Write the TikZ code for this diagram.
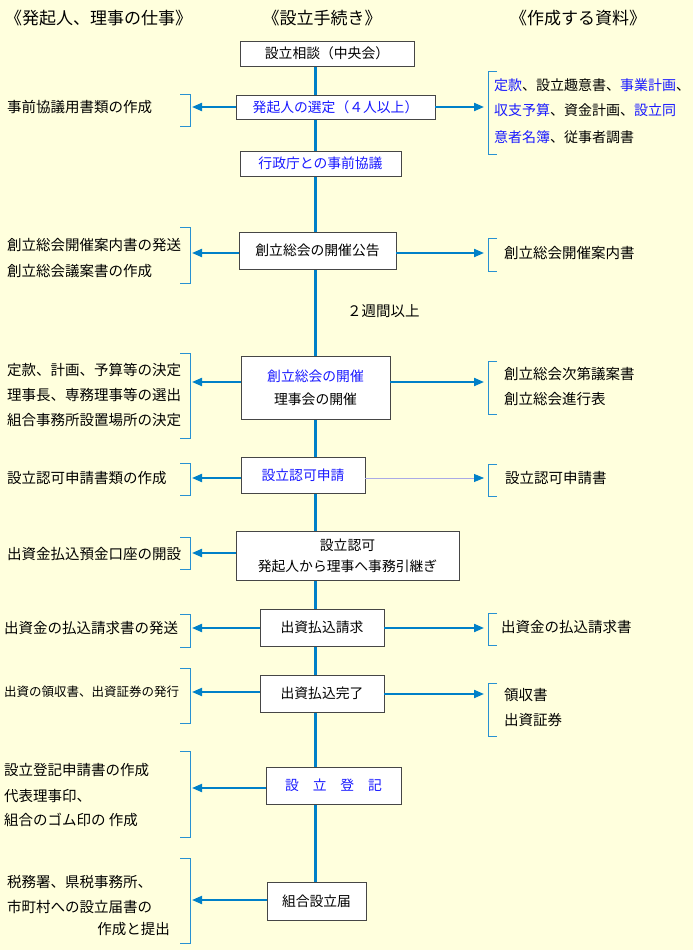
\documentclass[tikz,border=0pt]{standalone}
\usepackage{fontspec}
\setmainfont{Noto Sans CJK JP}
\usetikzlibrary{arrows.meta}
\definecolor{paper}{RGB}{255,255,221}
\definecolor{flowblue}{RGB}{0,128,200}
\definecolor{brkblue}{RGB}{40,145,210}
\definecolor{txtblue}{RGB}{25,25,255}
\definecolor{thinline}{RGB}{170,170,230}

\begin{document}
\begin{tikzpicture}[
  x=1pt, y=-1pt,
  every node/.style={inner sep=0pt, font=\fontsize{14.5}{16}\selectfont},
  proc/.style={draw=gray!55!black, fill=white, line width=0.9pt, font=\fontsize{13.8}{15}\selectfont, align=center},
  note/.style={anchor=west},
  head/.style={font=\fontsize{17}{18}\selectfont},
  hot/.style={text=txtblue},
  flow/.style={draw=flowblue, line width=3pt},
  feed/.style={draw=flowblue, line width=2pt, -{Triangle[length=10pt,width=8pt]}},
  faint/.style={draw=thinline, line width=0.8pt, -{Triangle[length=10pt,width=8pt,color=flowblue]}},
  brk/.style={draw=brkblue, line width=1pt}]

  % page
  \fill[paper] (0,0) rectangle (693,950);
  \useasboundingbox (0,0) rectangle (693,950);

  %% ---------------- headings ----------------
  \node[head, anchor=west] (hL) at (5,18) {《発起人、理事の仕事》};
  \node[head] (hM) at (322,18) {《設立手続き》};
  \node[head] (hR) at (578,18) {《作成する資料》};

  %% ---------------- main flow ----------------
  % spine
  \coordinate (top) at (315,66);
  \coordinate (bot) at (315,882);
  \draw[flow] (top) -- (bot);
  % steps
  \node[proc, minimum width=174pt, minimum height=25pt] (s1) at (327,53.5) {設立相談（中央会）};
  \node[proc, hot, minimum width=199pt, minimum height=24pt] (s2) at (335.5,107) {発起人の選定（４人以上）};
  \node[proc, hot, minimum width=161pt, minimum height=25pt] (s3) at (320.5,163.5) {行政庁との事前協議};
  \node[proc, minimum width=157pt, minimum height=37pt] (s4) at (317.5,250.5) {創立総会の開催公告};
  \node[proc, minimum width=149pt, minimum height=63pt] (s5) at (315.5,387.5) {\textcolor{txtblue}{創立総会の開催}\\[8pt]理事会の開催};
  \node[proc, hot, minimum width=124pt, minimum height=36pt] (s6) at (303,475) {設立認可申請};
  \node[proc, minimum width=223pt, minimum height=49pt] (s7) at (347.5,555.5) {設立認可\\[6pt]発起人から理事へ事務引継ぎ};
  \node[proc, minimum width=124pt, minimum height=37pt] (s8) at (322,627.5) {出資払込請求};
  \node[proc, minimum width=124pt, minimum height=37pt] (s9) at (322,693.5) {出資払込完了};
  \node[proc, hot, minimum width=135pt, minimum height=37pt] (s10) at (333.5,785.5) {設\quad 立\quad 登\quad 記};
  \node[proc, minimum width=99pt, minimum height=38pt] (s11) at (316.5,901) {組合設立届};
  % interval
  \node[note] (wk) at (347,311) {２週間以上};

  %% ---------------- left side ----------------
  % arrow ends
  \coordinate (l2) at (192,107);
  \coordinate (l4) at (192,253);
  \coordinate (l5) at (192,382);
  \coordinate (l6) at (192,478);
  \coordinate (l7) at (192,553);
  \coordinate (l8) at (192,628);
  \coordinate (l9) at (192,692);
  \coordinate (l10) at (192,788);
  \coordinate (l11) at (192,900);
  % arrows
  \draw[feed] (s2.west |- l2) -- (l2);
  \draw[feed] (s4.west |- l4) -- (l4);
  \draw[feed] (s5.west |- l5) -- (l5);
  \draw[feed] (s6.west |- l6) -- (l6);
  \draw[feed] (s7.west |- l7) -- (l7);
  \draw[feed] (s8.west |- l8) -- (l8);
  \draw[feed] (s9.west |- l9) -- (l9);
  \draw[feed] (s10.west |- l10) -- (l10);
  \draw[feed] (s11.west |- l11) -- (l11);
  % brackets
  \draw[brk] (180,94) -- (190,94) -- (190,126) -- (180,126);
  \draw[brk] (180,227) -- (190,227) -- (190,283) -- (180,283);
  \draw[brk] (180,353) -- (190,353) -- (190,438) -- (180,438);
  \draw[brk] (180,463) -- (190,463) -- (190,495) -- (180,495);
  \draw[brk] (180,537) -- (190,537) -- (190,569) -- (180,569);
  \draw[brk] (180,614) -- (190,614) -- (190,647) -- (180,647);
  \draw[brk] (180,668) -- (190,668) -- (190,723) -- (180,723);
  \draw[brk] (180,751) -- (190,751) -- (190,837) -- (180,837);
  \draw[brk] (180,858) -- (190,858) -- (190,943) -- (180,943);
  % texts
  \node[note] (t2) at (7,107) {事前協議用書類の作成};
  \node[note] (t4a) at (7,245) {創立総会開催案内書の発送};
  \node[note] (t4b) at (7,271) {創立総会議案書の作成};
  \node[note] (t5a) at (7,370) {定款、計画、予算等の決定};
  \node[note] (t5b) at (7,395) {理事長、専務理事等の選出};
  \node[note] (t5c) at (7,420) {組合事務所設置場所の決定};
  \node[note] (t6) at (7,478) {設立認可申請書類の作成};
  \node[note] (t7) at (7,554) {出資金払込預金口座の開設};
  \node[note] (t8) at (4,628) {出資金の払込請求書の発送};
  \node[note, font=\fontsize{12.5}{14}\selectfont] (t9) at (4,692) {出資の領収書、出資証券の発行};
  \node[note] (t10a) at (4,770) {設立登記申請書の作成};
  \node[note] (t10b) at (4,796) {代表理事印、};
  \node[note] (t10c) at (4,820) {組合のゴム印の 作成};
  \node[note] (t11a) at (7,882) {税務署、県税事務所、};
  \node[note] (t11b) at (7,907) {市町村への設立届書の};
  \node[anchor=east] (t11c) at (170,929) {作成と提出};

  %% ---------------- right side ----------------
  % arrow ends
  \coordinate (r2) at (484,107);
  \coordinate (r4) at (484,253);
  \coordinate (r5) at (484,382);
  \coordinate (r6) at (484,478);
  \coordinate (r8) at (484,628);
  \coordinate (r9) at (484,694);
  % arrows
  \draw[feed] (s2.east |- r2) -- (r2);
  \draw[feed] (s4.east |- r4) -- (r4);
  \draw[feed] (s5.east |- r5) -- (r5);
  \draw[faint] (s6.east |- r6) -- (r6);
  \draw[feed] (s8.east |- r8) -- (r8);
  \draw[feed] (s9.east |- r9) -- (r9);
  % brackets
  \draw[brk] (497,72) -- (488,72) -- (488,154) -- (497,154);
  \draw[brk] (497,238) -- (488,238) -- (488,271) -- (497,271);
  \draw[brk] (497,361) -- (488,361) -- (488,414) -- (497,414);
  \draw[brk] (497,464) -- (488,464) -- (488,496) -- (497,496);
  \draw[brk] (497,613) -- (488,613) -- (488,645) -- (497,645);
  \draw[brk] (497,683) -- (488,683) -- (488,736) -- (497,736);
  % texts
  \node[note, font=\fontsize{14}{16}\selectfont] (d2a) at (494,85) {\textcolor{txtblue}{定款}、設立趣意書、\textcolor{txtblue}{事業計画}、};
  \node[note, font=\fontsize{14}{16}\selectfont] (d2b) at (494,110) {\textcolor{txtblue}{収支予算}、資金計画、\textcolor{txtblue}{設立同}};
  \node[note, font=\fontsize{14}{16}\selectfont] (d2c) at (494,137) {\textcolor{txtblue}{意者名簿}、従事者調書};
  \node[note] (d4) at (504,253) {創立総会開催案内書};
  \node[note] (d5a) at (504,374) {創立総会次第議案書};
  \node[note] (d5b) at (504,399) {創立総会進行表};
  \node[note] (d6) at (505,478) {設立認可申請書};
  \node[note] (d8) at (501,627) {出資金の払込請求書};
  \node[note] (d9a) at (504,695) {領収書};
  \node[note] (d9b) at (504,720) {出資証券};

\end{tikzpicture}
\end{document}
